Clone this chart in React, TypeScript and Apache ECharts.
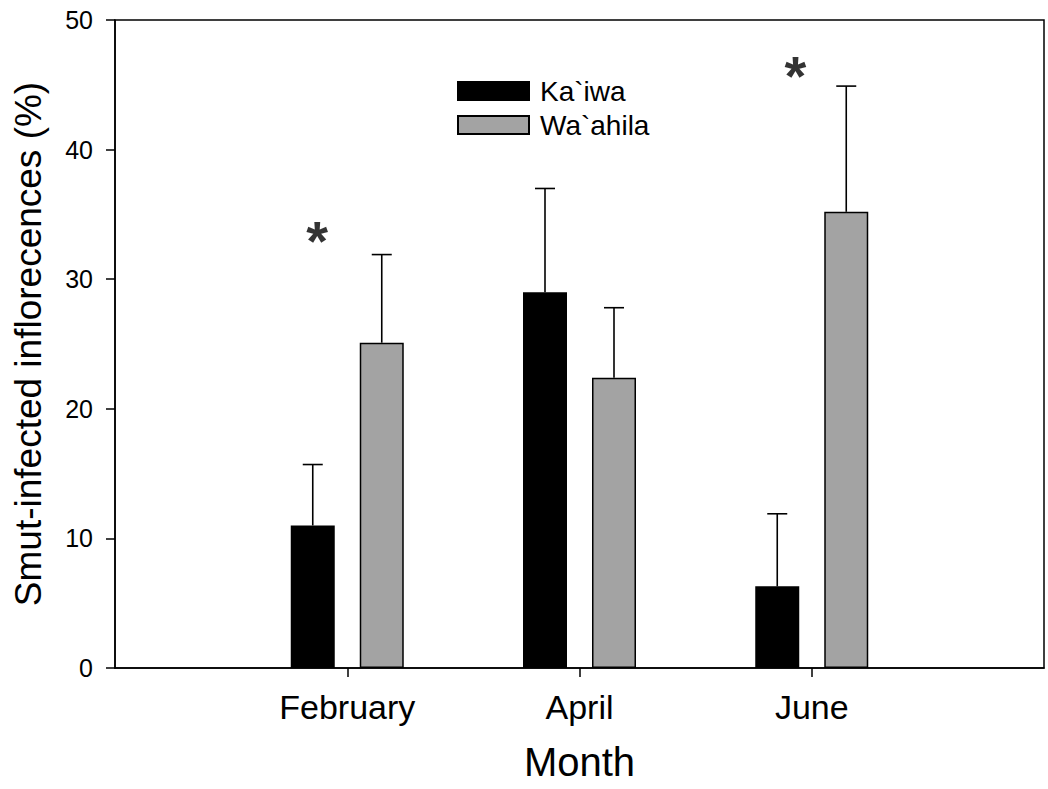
import React, { useEffect, useRef } from "react";
import * as echarts from "echarts";

// ---- data ----
const months = ["", "February", "April", "June", ""];
const seriesNames = ["Ka`iwa", "Wa`ahila"];
const kaiwaMean = [null, 11.0, 29.0, 6.3, null];
const kaiwaUpper = [null, 15.7, 37.0, 11.9, null];
const wahilaMean = [null, 25.1, 22.4, 35.2, null];
const wahilaUpper = [null, 31.9, 27.8, 44.9, null];
// significance markers: [month position, % level]
const significance = [
  [0.87, 33.0],
  [2.93, 45.7],
];
const yMin = 0;
const yMax = 50;
const yStep = 10;

const FONT = "'Liberation Sans', Arial, Helvetica, sans-serif";
const BAR_W = 44;
const BAR_GAP = 25;
const HALF = (BAR_W + BAR_GAP) / 2;

function errorSeries(means: (number | null)[], uppers: (number | null)[], dir: number) {
  const data: number[][] = [];
  means.forEach((m, i) => {
    if (m != null && uppers[i] != null) data.push([i, m, uppers[i] as number]);
  });
  return {
    type: "custom",
    xAxisIndex: 0,
    yAxisIndex: 0,
    data,
    z: 3,
    silent: true,
    renderItem: (params: any, api: any) => {
      const base = api.coord([api.value(0), api.value(1)]);
      const top = api.coord([api.value(0), api.value(2)]);
      const x = base[0] + dir * HALF;
      const st = { stroke: "#000", lineWidth: 1.6 };
      return {
        type: "group",
        children: [
          { type: "line", shape: { x1: x, y1: base[1], x2: x, y2: top[1] }, style: st },
          { type: "line", shape: { x1: x - 10, y1: top[1], x2: x + 10, y2: top[1] }, style: st },
        ],
      };
    },
  };
}

export default function App() {
  const ref = useRef<HTMLDivElement>(null);
  useEffect(() => {
    if (!ref.current) return;
    const chart = echarts.init(ref.current, undefined, { renderer: "svg" });
    const showIdx = (idx: number) => idx >= 1 && idx <= 3;
    chart.setOption({
      animation: false,
      backgroundColor: "#fff",
      textStyle: { fontFamily: FONT, color: "#000" },
      grid: {
        left: 115,
        right: 4,
        top: 20,
        bottom: 121,
        show: true,
        borderColor: "#000",
        borderWidth: 1.5,
        backgroundColor: "transparent",
      },
      legend: {
        data: seriesNames,
        orient: "vertical",
        left: 452,
        top: 72,
        icon: "rect",
        itemWidth: 71,
        itemHeight: 18,
        itemGap: 6,
        textStyle: { fontSize: 28, fontFamily: FONT, color: "#000", padding: [0, 0, 0, 6] },
      },
      xAxis: [
        {
          type: "category",
          data: months,
          boundaryGap: false,
          axisLine: { show: true, lineStyle: { color: "#000", width: 1.5 } },
          axisTick: { show: true, interval: (i: number) => showIdx(i), length: 9, lineStyle: { color: "#000", width: 1.5 } },
          axisLabel: { interval: (i: number) => showIdx(i), fontSize: 34, margin: 22, color: "#000", fontFamily: FONT },
          splitLine: { show: false },
          name: "Month",
          nameLocation: "middle",
          nameGap: 74,
          nameTextStyle: { fontSize: 40, color: "#000", fontFamily: FONT },
        },
        { type: "value", min: 0, max: 4, show: false },
      ],
      yAxis: {
        type: "value",
        min: yMin,
        max: yMax,
        interval: yStep,
        axisLine: { show: true, lineStyle: { color: "#000", width: 1.5 } },
        axisTick: { show: true, length: 9, lineStyle: { color: "#000", width: 1.5 } },
        axisLabel: { fontSize: 25, margin: 22, color: "#000", fontFamily: FONT },
        splitLine: { show: false },
        name: "Smut-infected inflorecences (%)",
        nameLocation: "middle",
        nameGap: 68,
        nameTextStyle: { fontSize: 37, color: "#000", fontFamily: FONT },
      },
      series: [
        {
          name: seriesNames[0],
          type: "bar",
          data: kaiwaMean,
          barWidth: BAR_W,
          barGap: `${(BAR_GAP / BAR_W) * 100}%`,
          itemStyle: { color: "#000", borderColor: "#000", borderWidth: 1.5 },
          z: 2,
        },
        {
          name: seriesNames[1],
          type: "bar",
          data: wahilaMean,
          barWidth: BAR_W,
          barGap: `${(BAR_GAP / BAR_W) * 100}%`,
          itemStyle: { color: "#a3a3a3", borderColor: "#000", borderWidth: 1.5 },
          z: 2,
        },
        errorSeries(kaiwaMean, kaiwaUpper, -1),
        errorSeries(wahilaMean, wahilaUpper, 1),
        {
          type: "scatter",
          xAxisIndex: 1,
          yAxisIndex: 0,
          data: significance,
          symbolSize: 1,
          itemStyle: { color: "transparent" },
          silent: true,
          label: {
            show: true,
            position: "inside",
            formatter: "*",
            fontSize: 56,
            fontWeight: "bold",
            color: "#000",
            fontFamily: FONT,
          },
        },
      ],
    });
    return () => chart.dispose();
  }, []);
  return (
    <div
      ref={ref}
      style={{ position: "absolute", left: 0, top: 0, width: 1048, height: 789, background: "#fff" }}
    />
  );
}
